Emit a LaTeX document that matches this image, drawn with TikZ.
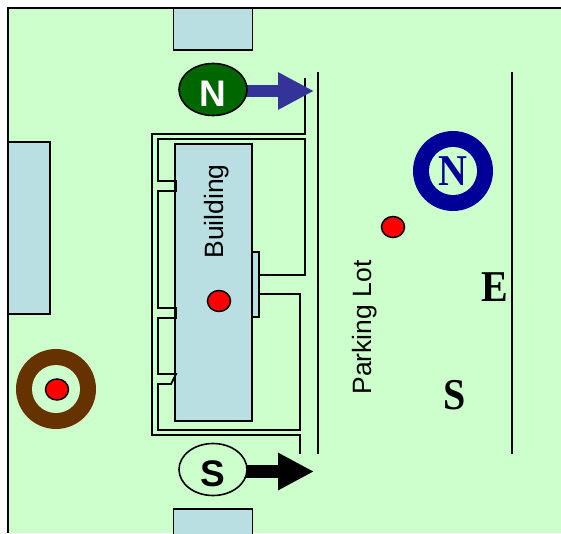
\documentclass[tikz,border=0pt]{standalone}
\usepackage{fontspec}
\setmainfont{Liberation Sans}
\newfontfamily\serifb{Liberation Serif}
\usetikzlibrary{arrows.meta,shapes.geometric}
\definecolor{lawn}{HTML}{CCFFCC}
\definecolor{pale}{HTML}{B9DFE2}
\definecolor{navy}{HTML}{000099}
\definecolor{brownring}{HTML}{663300}
\definecolor{darkgr}{HTML}{006600}
\definecolor{indigoa}{HTML}{333399}
\newcommand{\tallb}[1]{\scalebox{1}[1.1]{#1}}
\tikzset{
  wall/.style={line width=1.8pt,line join=miter},
  blockbox/.style={draw=black,line width=1.8pt,fill=pale,inner sep=0pt},
  reddot/.style={ellipse,draw=black,line width=1.5pt,fill=red,minimum width=23pt,minimum height=21pt,inner sep=0pt},
  oval/.style={ellipse,draw=black,line width=1.6pt,minimum width=68pt,minimum height=52pt,inner sep=0pt,font=\bfseries\fontsize{37}{37}\selectfont},
  lab/.style={font=\fontsize{26.5}{26.5}\selectfont},
  compass/.style={font=\serifb\bfseries\fontsize{40}{40}\selectfont},
  fatarrow/.style={line width=12.5pt,-{Triangle[length=36pt,width=35pt]}}
}
\begin{document}
\begin{tikzpicture}[x=1pt,y=-1pt]
\useasboundingbox (0,0) rectangle (561,533);
\fill[white] (0,0) rectangle (561,533);
\fill[lawn] (8,8) rectangle (561,533);
% blocks
\node[blockbox,minimum width=79pt,minimum height=42pt] (topb) at (213,29) {};
\node[blockbox,minimum width=79pt,minimum height=42pt] (botb) at (213,530) {};
\node[blockbox,minimum width=42pt,minimum height=172pt] (leftb) at (29,228) {};
\draw[line width=2.2pt] (561,8) -- (8,8) -- (8,533);
% building
\node[blockbox,minimum width=7pt,minimum height=65pt] (porch) at (255.5,284.5) {};
\node[blockbox,minimum width=77pt,minimum height=277pt] (bld) at (213.5,282.5) {};
% walls
\draw[wall] (305,78) -- (305,134) -- (152,134) -- (152,435) -- (300,435) -- (300,454);
\draw[wall] (259,275) -- (305,275) -- (305,139) -- (158,139) -- (158,181) -- (176,181) -- (176,191) -- (158,191) -- (158,308) -- (176,308) -- (176,318) -- (158,318) -- (158,374) -- (176,374) -- (171,384) -- (158,384) -- (158,430) -- (300,430) -- (300,294) -- (259,294);
\node[lab,rotate=90] (bldl) at (216.5,211.5) {Building};
\node[reddot] (d1) at (219,301) {};
% parking lines
\coordinate (pa) at (318,72); \coordinate (pb) at (318,454);
\coordinate (pc) at (512,72); \coordinate (pd) at (512,454);
\draw[line width=1.8pt] (pa) -- (pb);
\draw[line width=1.8pt] (pc) -- (pd);
\node[lab,rotate=90] (pl) at (365,327.5) {Parking Lot};
\node[reddot] (d2) at (393,227) {};
% compass
\node[circle,fill=navy,inner sep=0pt,minimum size=80pt] (nring) at (453,171) {};
\node[circle,fill=lawn,inner sep=0pt,minimum size=48pt] (ninner) at (453,171) {};
\node[compass,text=navy] (nl) at (453,171) {\tallb{N}};
\node[compass] (el) at (494.4,286.7) {\tallb{E}};
\node[compass] (sl) at (454.4,394.7) {\tallb{S}};
% left target
\node[circle,fill=brownring,inner sep=0pt,minimum size=80pt] (bring) at (56,389) {};
\node[circle,fill=lawn,inner sep=0pt,minimum size=48pt] (binner) at (56,389) {};
\node[reddot] (d3) at (57,389.5) {};
% arrows
\coordinate (ntip) at (314,91); \coordinate (stip) at (314,471.5);
\coordinate (nbase) at (225,91); \coordinate (sbase) at (225,471.5);
\draw[fatarrow,indigoa] (nbase) -- (ntip);
\draw[fatarrow,black] (sbase) -- (stip);
\node[oval,fill=darkgr,text=white] (nn) at (213,89.5) {\raisebox{-3.5pt}[26.5pt][0pt]{N}};
\node[oval,fill=lawn,text=black] (ss) at (213,469.5) {\raisebox{-3.5pt}[26.5pt][0pt]{S}};
\end{tikzpicture}
\end{document}
